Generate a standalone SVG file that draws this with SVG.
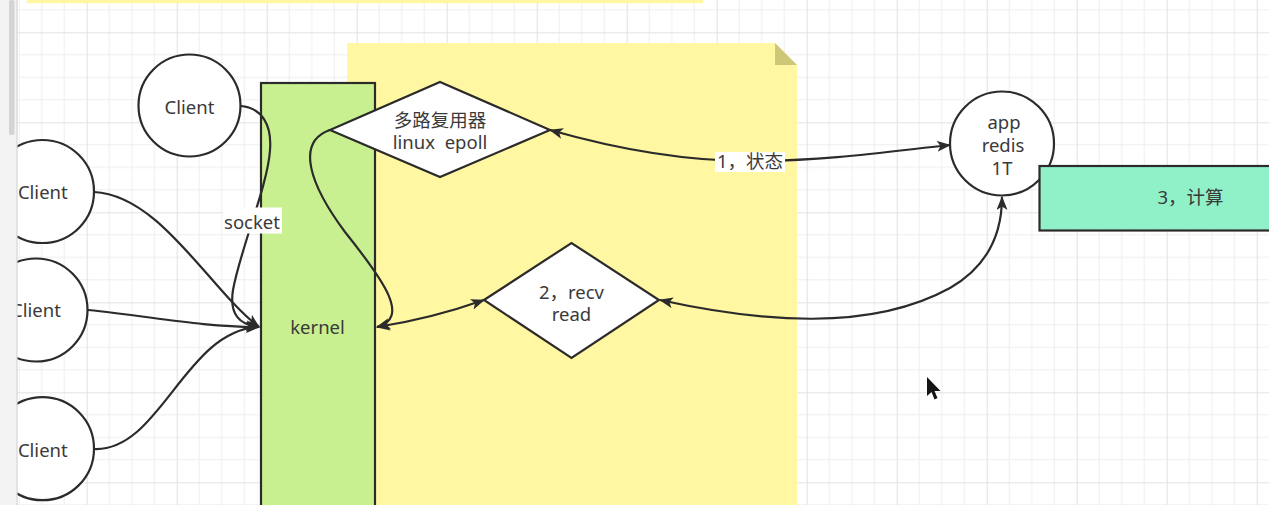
<svg xmlns="http://www.w3.org/2000/svg" width="1269" height="505" viewBox="0 0 1269 505">
<style>
.t{font-family:"Noto Sans","Noto Sans CJK SC",sans-serif;font-size:18.5px;fill:#3a3a3a;text-anchor:middle}
.sh{stroke:#2b2b2b;stroke-width:2.2}
.c{fill:none;stroke:#2b2b2b;stroke-width:2.2}
.lbl{fill:#fff}
</style>
<defs>
<pattern id="grid" patternUnits="userSpaceOnUse" x="86.7" y="32.3" width="90" height="90">
<path d="M22.5,0V90M45,0V90M67.5,0V90M0,22.5H90M0,45H90M0,67.5H90" fill="none" stroke="#eeeeee" stroke-width="1"/>
<path d="M0.5,0V90M0,0.5H90" fill="none" stroke="#e2e2e2" stroke-width="1.2"/>
</pattern>
<marker id="arr" viewBox="0 0 14 11" refX="13" refY="5.5" markerWidth="14" markerHeight="11" orient="auto-start-reverse" markerUnits="userSpaceOnUse">
<path d="M0,0 L14,5.5 L0,11 L3.5,5.5 z" fill="#2b2b2b"/>
</marker>
</defs>
<rect x="0" y="0" width="1269" height="505" fill="#ffffff"/>
<rect x="17" y="0" width="1252" height="505" fill="url(#grid)"/>
<rect x="27" y="0" width="676" height="3.3" fill="#fff7a1"/>

<g id="note">
<path d="M347,43 H775 L797,65 V505 H347 Z" fill="#fff7a1"/>
<path d="M775,43 L797,65 H775 Z" fill="#cdc777"/>
</g>

<g id="kernel">
<rect x="261" y="83" width="114" height="430" fill="#c9f090" class="sh"/>
<text class="t" x="317.5" y="334">kernel</text>
</g>

<g id="client1">
<circle cx="189.5" cy="105.5" r="51" fill="#fff" class="sh"/>
<text class="t" x="189.5" y="114">Client</text>
</g>
<g id="client2">
<circle cx="42.5" cy="191.5" r="51.5" fill="#fff" class="sh"/>
<text class="t" x="42.8" y="199">Client</text>
</g>
<g id="client3">
<circle cx="36" cy="310" r="51.5" fill="#fff" class="sh"/>
<text class="t" x="36" y="317">Client</text>
</g>
<g id="client4">
<circle cx="42.5" cy="448.7" r="51.5" fill="#fff" class="sh"/>
<text class="t" x="42.8" y="456.5">Client</text>
</g>

<g id="epoll">
<polygon points="330,130 440,82 550,130 440,177" fill="#fff" class="sh"/>
<text class="t" x="440" y="126.5">多路复用器</text>
<text class="t" x="440" y="149" xml:space="preserve">linux  epoll</text>
</g>

<g id="recv">
<polygon points="484,300 571.5,243 659,300 571.5,358" fill="#fff" class="sh"/>
<text class="t" x="571.5" y="298.5">2，recv</text>
<text class="t" x="571.5" y="321">read</text>
</g>

<g id="app">
<circle cx="1002" cy="143.5" r="52" fill="#fff" class="sh"/>
<text class="t" x="1004" y="128.5">app</text>
<text class="t" x="1003" y="152">redis</text>
<text class="t" x="1002" y="175">1T</text>
</g>

<g id="compute">
<rect x="1039.5" y="166" width="303" height="64.5" fill="#90f0c8" class="sh"/>
<text class="t" x="1190.5" y="204">3，计算</text>
</g>

<g id="connectors">
<path class="c" d="M241,106 C262,108 272,125 270,150 C268,185 240,250 233,290 C229,315 240,325 259,327" marker-end="url(#arr)"/>
<path class="c" d="M94,192 C160,195 210,290 259,327" marker-end="url(#arr)"/>
<path class="c" d="M88,310 C150,316 200,327 259,327" marker-end="url(#arr)"/>
<path class="c" d="M94,449 C160,452 185,330 259,327" marker-end="url(#arr)"/>
<path class="c" d="M330,130 C295,142 310,185 345,232 C385,282 410,318 377,327" marker-end="url(#arr)"/>
<path class="c" d="M377,327 C410,322 450,312 484,300" marker-start="url(#arr)" marker-end="url(#arr)"/>
<path class="c" d="M660,300 C760,322 870,332 950,288 C990,265 1002,232 1002,197" marker-start="url(#arr)" marker-end="url(#arr)"/>
<path class="c" d="M550,130 C620,150 690,161 750,161 C830,161 900,150 950,145" marker-start="url(#arr)" marker-end="url(#arr)"/>
<rect class="lbl" x="223" y="207.5" width="59" height="26"/>
<text class="t" x="252" y="229">socket</text>
<rect class="lbl" x="715" y="152" width="70" height="20"/>
<text class="t" x="750" y="167.5">1，状态</text>
</g>

<g id="panel">
<rect x="0" y="0" width="17" height="505" fill="#f3f3f3"/>
<rect x="9" y="0" width="5.5" height="135" rx="2" fill="#d4d4d4"/>
<line x1="17" y1="0" x2="17" y2="505" stroke="#d6d6d6" stroke-width="1.2"/>
</g>
<polygon points="927,377 927,396 931.5,392 934.5,399.5 937.5,398 934.5,391 940.5,391" fill="#151515"/>
</svg>
